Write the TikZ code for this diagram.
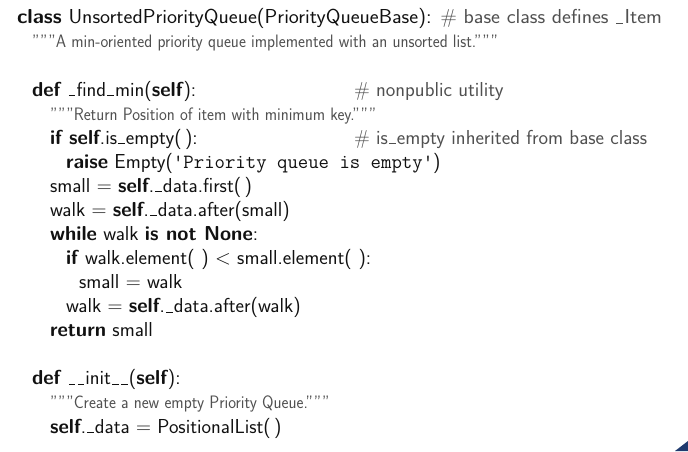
\documentclass[tikz,border=0pt]{standalone}
\usepackage{fontspec}
\usepackage{graphicx}
\definecolor{cmtgray}{HTML}{505050}
\definecolor{codeblk}{HTML}{111111}
\definecolor{cornerblue}{HTML}{1F3A6E}
\newcommand{\kw}[1]{\textbf{#1}}
\newcommand{\cm}[1]{\textcolor{cmtgray}{#1}}
\newcommand{\dq}{\textquotedblright\textquotedblright\textquotedblright}
\newcommand{\us}{\kern.06em\rule{.32em}{.055em}\kern.06em}
\newcommand{\docstr}[1]{{\fontsize{18}{24}\selectfont\scalebox{0.92}[1]{\cm{#1}}}}
\tikzset{
  codeline/.style={anchor=base west, inner sep=0pt, outer sep=0pt, text=codeblk,
    font=\fontsize{20.2}{24}\selectfont\sffamily},
}
\begin{document}
\begin{tikzpicture}[x=1pt,y=-1pt]
\useasboundingbox[fill=white] (0,0) rectangle (688,451);
\def\pa{24.07}
\def\bz{23.8}
% indentation levels
\def\lz{17}\def\la{32}\def\lb{50}\def\lc{66}\def\ld{79}
\def\cc{354}
\node[codeline] (l1) at (\lz,\bz) {\resizebox{645pt}{\height}{\kw{class} UnsortedPriorityQueue(PriorityQueueBase): \cm{\# base class defines \us Item}}};
\node[codeline] (l2) at (\la,\bz+\pa) {\docstr{\dq A min-oriented priority queue implemented with an unsorted list.\dq}};
\node[codeline] (l4) at (\la,\bz+3*\pa) {\kw{def} \us find\us min(\kw{self}):};
\node[codeline] (c4) at (\cc,\bz+3*\pa) {\cm{\# nonpublic utility}};
\node[codeline] (l5) at (\lb,\bz+4*\pa) {\docstr{\dq Return Position of item with minimum key.\dq}};
\node[codeline] (l6) at (\lb,\bz+5*\pa) {\kw{if} \kw{self}.is\us empty(\,):};
\node[codeline] (c6) at (\cc,\bz+5*\pa) {\cm{\# is\us empty inherited from base class}};
\node[codeline] (l7) at (\lc,\bz+6*\pa) {\kw{raise} Empty(\texttt{\textquotesingle Priority queue is empty\textquotesingle})};
\node[codeline] (l8) at (\lb,\bz+7*\pa) {small $=$ \kw{self}.\us data.first(\,)};
\node[codeline] (l9) at (\lb,\bz+8*\pa) {walk $=$ \kw{self}.\us data.after(small)};
\node[codeline] (l10) at (\lb,\bz+9*\pa) {\kw{while} walk \kw{is not None}:};
\node[codeline] (l11) at (\lc,\bz+10*\pa) {\kw{if} walk.element(\,\,) $<$ small.element(\,\,):};
\node[codeline] (l12) at (\ld,\bz+11*\pa) {small $=$ walk};
\node[codeline] (l13) at (\lc,\bz+12*\pa) {walk $=$ \kw{self}.\us data.after(walk)};
\node[codeline] (l14) at (\lb,\bz+13*\pa) {\kw{return} small};
\node[codeline] (l16) at (\la,\bz+15*\pa) {\kw{def} \us\us init\us\us(\kw{self}):};
\node[codeline] (l17) at (\lb,\bz+16*\pa) {\docstr{\dq Create a new empty Priority Queue.\dq}};
\node[codeline] (l18) at (\lb,\bz+17*\pa) {\kw{self}.\us data $=$ PositionalList(\,)};
\fill[cornerblue] (675,451) -- (688,451) -- (688,441) -- cycle;
\end{tikzpicture}
\end{document}
